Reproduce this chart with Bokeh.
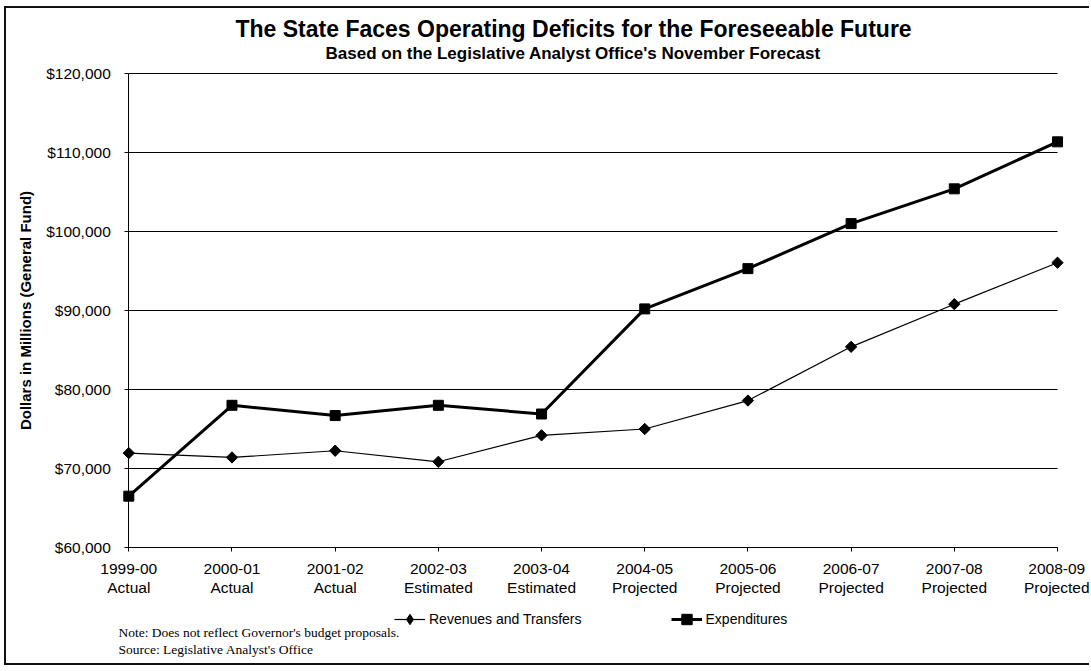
import math
from bokeh.plotting import figure
from bokeh.models import (Range1d, FixedTicker, NumeralTickFormatter, Legend,
                          LegendItem, Label)
from bokeh.embed import file_html
from bokeh.resources import INLINE

# ---- data ----
years = ["1999-00", "2000-01", "2001-02", "2002-03", "2003-04",
         "2004-05", "2005-06", "2006-07", "2007-08", "2008-09"]
status = ["Actual", "Actual", "Actual", "Estimated", "Estimated",
          "Projected", "Projected", "Projected", "Projected", "Projected"]
revenues = [71950, 71400, 72250, 70850, 74200, 75000, 78600, 85400, 90800, 96050]
expenditures = [66500, 78000, 76700, 78000, 76900, 90200, 95300, 101000, 105400, 111350]
y_ticks = [60000, 70000, 80000, 90000, 100000, 110000, 120000]

title_text = "The State Faces Operating Deficits for the Foreseeable Future"
subtitle_text = "Based on the Legislative Analyst Office's November Forecast"
y_label = "Dollars in Millions (General Fund)"
note_lines = ["Note: Does not reflect Governor's budget proposals.",
              "Source: Legislative Analyst's Office"]

SANS = "Liberation Sans"
SERIF = "Liberation Serif"

# ---- layout (pixels) ----
W, H = 1085, 659          # canvas size
PX_X = 103.19             # pixels per category step
LEFT_PX = 122.3           # canvas x of first category
RIGHT_PX = 34.0           # space right of last category
PX_Y = 79.0 / 10000.0     # pixels per dollar (millions)
Y_TOP_PX = 65.0           # canvas y of the top tick (titles live above it)
Y_BOTTOM_PX = 120.0       # space below bottom tick (axis labels, legend, notes)

x = list(range(len(years)))
x_start = x[0] - LEFT_PX / PX_X
x_end = x[-1] + RIGHT_PX / PX_X
y_start = y_ticks[0] - Y_BOTTOM_PX / PX_Y
y_end = y_ticks[-1] + Y_TOP_PX / PX_Y

p = figure(width=W, height=H,
           x_range=Range1d(x_start, x_end), y_range=Range1d(y_start, y_end),
           output_backend="svg", toolbar_location=None,
           min_border_left=0, min_border_right=0,
           min_border_top=0, min_border_bottom=0)
p.styles = {"border-left": "2px solid #111111",
            "border-top": "2px solid #111111",
            "border-bottom": "2px solid #111111",
            "margin-left": "4px", "margin-top": "6px"}
p.outline_line_color = None
p.xgrid.visible = False
p.ygrid.visible = False

# horizontal gridlines spanning the category extent
n = len(y_ticks)
p.segment(x0=[x[0]] * n, x1=[x[-1]] * n, y0=y_ticks, y1=y_ticks,
          line_color="black", line_width=1)

# series
rl = p.line(x, revenues, line_color="black", line_width=1.2)
rs = p.scatter(x, revenues, marker="square", angle=math.pi / 4, size=8,
               color="black")
el = p.line(x, expenditures, line_color="black", line_width=3)
es = p.scatter(x, expenditures, marker="square", size=10, color="black")
# legend swatch only (Bokeh legends draw markers unrotated)
rd = p.scatter(x=[float("nan")], y=[float("nan")], marker="diamond",
               size=10, color="black")

# y axis (pinned at the first category)
yax = p.yaxis[0]
yax.fixed_location = x[0]
yax.bounds = (y_ticks[0], y_ticks[-1])
yax.ticker = FixedTicker(ticks=y_ticks)
yax.formatter = NumeralTickFormatter(format="$0,0")
yax.axis_line_color = "black"
yax.major_tick_in = 0
yax.major_tick_out = 4
yax.major_tick_line_color = "black"
yax.minor_tick_line_color = None
yax.major_label_standoff = 14
yax.major_label_text_font = SANS
yax.major_label_text_font_size = "15.5px"
yax.major_label_text_color = "black"
yax.axis_label = y_label
yax.axis_label_text_font = SANS
yax.axis_label_text_font_size = "15px"
yax.axis_label_text_font_style = "bold"
yax.axis_label_text_color = "black"
yax.axis_label_standoff = 9

# x axis (pinned at the bottom tick value)
xax = p.xaxis[0]
xax.fixed_location = y_ticks[0]
xax.ticker = FixedTicker(ticks=x)
xax.bounds = (x[0], x[-1])
xax.major_label_overrides = {i: f"{years[i]}\n{status[i]}" for i in x}
xax.major_tick_in = 0
xax.major_tick_out = 4
xax.minor_tick_line_color = None
xax.major_label_standoff = 8
xax.major_label_text_font = SANS
xax.major_label_text_font_size = "15.5px"
xax.major_label_text_line_height = 1.12
xax.major_label_text_color = "black"
xax.axis_line_color = "black"
xax.major_tick_line_color = "black"

# legend below the axis labels (offset from the frame's bottom-left corner)
legend = Legend(items=[LegendItem(label="Revenues and Transfers", renderers=[rl, rd]),
                       LegendItem(label="Expenditures", renderers=[el, es])],
                orientation="horizontal", location=(388, 35),
                border_line_color=None, background_fill_alpha=0,
                glyph_width=31, glyph_height=26, label_height=14,
                label_standoff=4, spacing=89, padding=0, margin=0,
                label_text_font=SANS, label_text_font_size="14px",
                label_text_color="black")
p.add_layout(legend)

# titles (baselines measured from the canvas bottom)
p.add_layout(Label(x=229, y=H - 20.2, x_units="screen", y_units="screen",
                   text=title_text, text_font=SANS, text_font_size="23px",
                   text_font_style="bold", text_color="black",
                   text_baseline="alphabetic", text_align="left"))
p.add_layout(Label(x=319, y=H - 44.7, x_units="screen", y_units="screen",
                   text=subtitle_text, text_font=SANS, text_font_size="17px",
                   text_font_style="bold", text_color="black",
                   text_baseline="alphabetic", text_align="left"))

# notes
for line, yoff in zip(note_lines, [35, 18]):
    p.add_layout(Label(x=112, y=yoff, x_units="screen", y_units="screen",
                       text=line, text_font=SERIF, text_font_size="13.5px",
                       text_color="black", text_baseline="alphabetic",
                       text_align="left"))

open("out.html", "w").write(file_html(p, INLINE))
